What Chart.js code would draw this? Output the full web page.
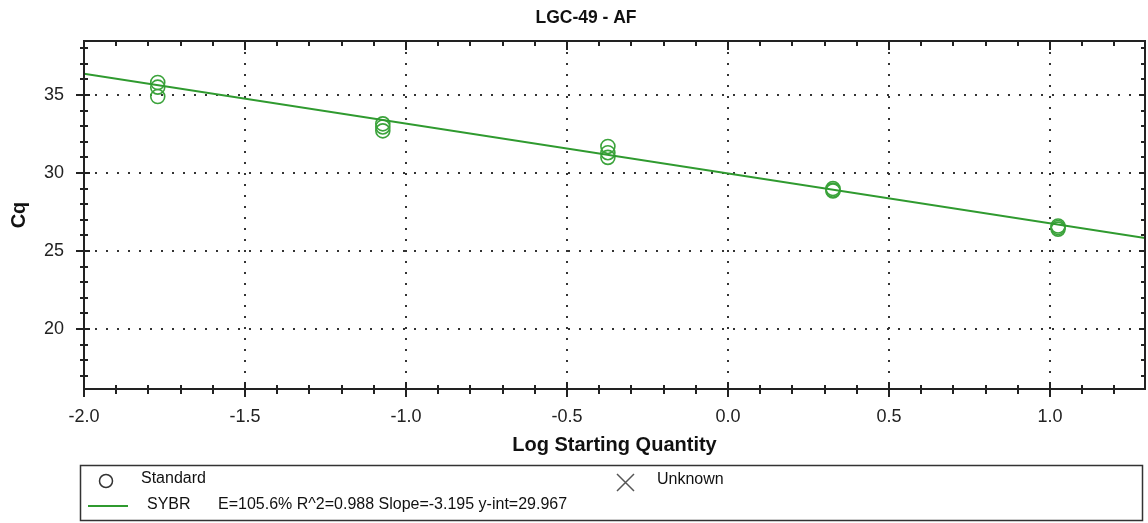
<!DOCTYPE html>
<html>
<head>
<meta charset="utf-8">
<title>LGC-49 - AF</title>
<script src="https://cdn.jsdelivr.net/npm/chart.js@4.4.1/dist/chart.umd.min.js"></script>
<style>
  html, body { margin: 0; padding: 0; background: #fff; }
  #wrap { width: 1148px; height: 523px; }
</style>
</head>
<body>
<div id="wrap"><canvas id="stdCurve"></canvas></div>
<script>
const chartTitle = 'LGC-49 - AF';

// standards: log starting quantity vs. Cq (three replicates per dilution)
const logQty = [-1.771, -1.771, -1.771, -1.072, -1.072, -1.072, -0.373, -0.373, -0.373, 0.326, 0.326, 0.326, 1.025, 1.025, 1.025];
const cqValues = [35.8, 35.5, 34.9, 33.15, 32.95, 32.7, 31.7, 31.3, 31.0, 29.0, 28.9, 28.85, 26.6, 26.5, 26.4];

// axis ranges and labelled ticks
const xRange = [-2.0, 1.295];
const yRange = [16.15, 38.46];
const xTicks = [-2.0, -1.5, -1.0, -0.5, 0.0, 0.5, 1.0];
const yTicks = [20, 25, 30, 35];

// regression reported for the SYBR standard curve
const efficiency = 105.6;
const rSquared = 0.988;
const slope = -3.195;
const yIntercept = 29.967;

const green = '#3ba33b';
const lineGreen = '#2f9a2f';
const ink = '#222';
const fontFamily = "'Liberation Sans', Arial, sans-serif";

const standards = logQty.map((x, i) => ({ x, y: cqValues[i] }));
const fitLine = xRange.map(x => ({ x, y: yIntercept + slope * x }));
const statsText = `E=${efficiency}% R^2=${rSquared} Slope=${slope} y-int=${yIntercept}`;

// title, frame, minor/major tick marks on all four sides, and the legend box
const framePlugin = {
  id: 'frame',
  afterDraw(chart) {
    const { ctx, chartArea: a, scales } = chart;
    const xs = scales.x, ys = scales.y;
    ctx.save();

    ctx.fillStyle = '#111';
    ctx.font = `bold 17.5px ${fontFamily}`;
    ctx.textAlign = 'center';
    ctx.textBaseline = 'middle';
    ctx.fillText(chartTitle, 586, 18);

    ctx.strokeStyle = ink;
    ctx.lineWidth = 2;
    ctx.strokeRect(a.left, a.top, a.right - a.left, a.bottom - a.top);

    ctx.beginPath();
    for (let i = Math.ceil(xs.min * 10); i <= Math.floor(xs.max * 10); i++) {
      const px = Math.round(xs.getPixelForValue(i / 10));
      const major = i % 5 === 0;
      ctx.moveTo(px, a.bottom - (major ? 7 : 4));
      ctx.lineTo(px, a.bottom + (major ? 8 : 5));
      ctx.moveTo(px, a.top);
      ctx.lineTo(px, a.top + (major ? 9 : 5));
    }
    for (let v = Math.ceil(ys.min); v <= Math.floor(ys.max); v++) {
      const py = Math.round(ys.getPixelForValue(v));
      const major = v % 5 === 0;
      ctx.moveTo(a.left - (major ? 8 : 4), py);
      ctx.lineTo(a.left + (major ? 6 : 4), py);
      ctx.moveTo(a.right, py);
      ctx.lineTo(a.right - (major ? 6 : 4), py);
    }
    ctx.stroke();

    // legend
    ctx.lineWidth = 1.5;
    ctx.strokeStyle = '#333';
    ctx.strokeRect(80.5, 465.5, 1062, 55);

    ctx.beginPath();
    ctx.arc(106, 481, 6.5, 0, Math.PI * 2);
    ctx.stroke();

    ctx.strokeStyle = '#555';
    ctx.beginPath();
    ctx.moveTo(617, 474); ctx.lineTo(634, 491);
    ctx.moveTo(634, 474); ctx.lineTo(617, 491);
    ctx.stroke();

    ctx.strokeStyle = lineGreen;
    ctx.lineWidth = 2;
    ctx.beginPath();
    ctx.moveTo(88, 506); ctx.lineTo(128, 506);
    ctx.stroke();

    ctx.fillStyle = '#111';
    ctx.font = `16px ${fontFamily}`;
    ctx.textAlign = 'left';
    ctx.fillText('Standard', 141, 479);
    ctx.fillText('Unknown', 657, 480);
    ctx.fillText('SYBR', 147, 505);
    ctx.fillText(statsText, 218, 505);
    ctx.restore();
  }
};

// dotted grid at the labelled ticks only
const dottedGrid = { color: '#333', lineWidth: 2, drawTicks: false };
const dottedBorder = { display: false, dash: [2, 9] };

new Chart(document.getElementById('stdCurve'), {
  type: 'scatter',
  data: {
    datasets: [
      {
        label: 'SYBR',
        type: 'line',
        data: fitLine,
        borderColor: lineGreen,
        borderWidth: 2,
        pointRadius: 0,
        fill: false,
      },
      {
        label: 'Standard',
        data: standards,
        borderColor: green,
        backgroundColor: 'transparent',
        borderWidth: 1.6,
        pointRadius: 7,
        pointHoverRadius: 7,
      },
    ],
  },
  options: {
    responsive: true,
    maintainAspectRatio: false,
    animation: false,
    layout: { autoPadding: false, padding: { left: 0, right: 3, top: 41, bottom: 65.6 } },
    plugins: {
      legend: { display: false },
      tooltip: { enabled: false },
      title: { display: false },
    },
    scales: {
      x: {
        type: 'linear',
        min: xRange[0],
        max: xRange[1],
        afterBuildTicks: axis => { axis.ticks = xTicks.map(value => ({ value })); },
        afterFit: axis => {
          axis.height = 68.4;
          axis.paddingLeft = 0;
          axis.paddingRight = 0;
        },
        border: dottedBorder,
        grid: dottedGrid,
        ticks: {
          color: ink,
          padding: 17,
          font: { family: fontFamily, size: 18 },
          callback: v => v.toFixed(1),
        },
        title: {
          display: true,
          text: 'Log Starting Quantity',
          color: '#111',
          font: { family: fontFamily, size: 20, weight: 'bold' },
          padding: { top: 0, bottom: 0 },
        },
      },
      y: {
        type: 'linear',
        min: yRange[0],
        max: yRange[1],
        afterBuildTicks: axis => { axis.ticks = yTicks.map(value => ({ value })); },
        afterFit: axis => { axis.width = 84; },
        border: dottedBorder,
        grid: dottedGrid,
        ticks: {
          color: ink,
          padding: 20,
          font: { family: fontFamily, size: 18 },
          callback: v => String(v),
        },
        title: {
          display: true,
          text: 'Cq',
          color: '#111',
          font: { family: fontFamily, size: 20, weight: 'bold' },
          padding: { top: 7, bottom: 0 },
        },
      },
    },
  },
  plugins: [framePlugin],
});
</script>
</body>
</html>
